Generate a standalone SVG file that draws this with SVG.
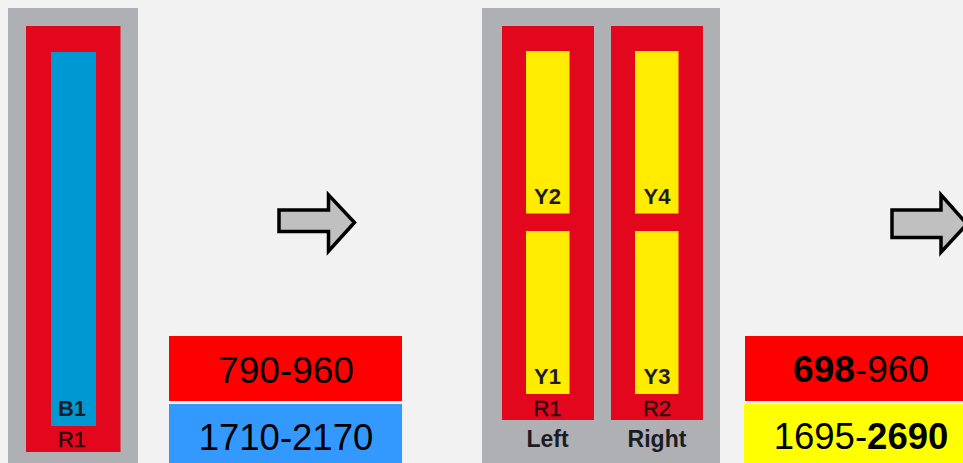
<svg xmlns="http://www.w3.org/2000/svg" width="963" height="463" viewBox="0 0 963 463">
<defs>
<style>
.bg{fill:#F2F2F2}
.gray{fill:#AEB0B3}
.red{fill:#E2071D}
.blue{fill:#0098D2}
.yel{fill:#FFEC00}
.lbl{font-family:"Liberation Sans",Arial,sans-serif;font-weight:bold;font-size:22px;fill:#1c1c24;text-anchor:middle}
.rl{font-family:"Liberation Sans",Arial,sans-serif;font-size:22px;fill:#2a0a0e;stroke:#2a0a0e;stroke-width:0.4;text-anchor:middle}
.big{font-family:"Liberation Sans",Arial,sans-serif;font-size:37px;fill:#000;text-anchor:middle}
.arrow{fill:#C0C0C0;stroke:#000;stroke-width:3.5;stroke-linejoin:miter}
</style>
</defs>
<rect class="bg" x="0" y="0" width="963" height="463"/>
<g id="panel1">
<rect class="gray" x="8" y="8" width="130" height="455"/>
<rect class="red" x="26" y="26" width="94.5" height="426"/>
<rect class="blue" x="51" y="52" width="45" height="374"/>
<text class="lbl" x="72" y="416">B1</text>
<text class="rl" x="72" y="447">R1</text>
</g>
<g id="band1">
<rect x="169" y="336" width="233" height="65" fill="#FF0000"/>
<text class="big" x="286" y="383">790-960</text>
<rect x="169" y="404" width="233" height="59" fill="#3399FF"/>
<text class="big" x="286" y="449.5" style="font-size:36.5px">1710-2170</text>
</g>
<g id="panel2">
<rect class="gray" x="482" y="8" width="238" height="455"/>
<rect class="red" x="502" y="26" width="92" height="394"/>
<rect class="red" x="611" y="26" width="92" height="394"/>
<rect class="yel" x="526" y="51" width="43.5" height="162.5"/>
<rect class="yel" x="526" y="231" width="43.5" height="163"/>
<rect class="yel" x="635" y="51" width="43.5" height="162.5"/>
<rect class="yel" x="635" y="231" width="43.5" height="163"/>
<text class="lbl" x="547.5" y="204">Y2</text>
<text class="lbl" x="547.5" y="384">Y1</text>
<text class="lbl" x="657" y="204">Y4</text>
<text class="lbl" x="657" y="384">Y3</text>
<text class="rl" x="547.5" y="416">R1</text>
<text class="rl" x="657" y="416">R2</text>
<text class="lbl" x="547.5" y="447" style="font-size:23px">Left</text>
<text class="lbl" x="657" y="447" style="font-size:23px">Right</text>
</g>
<g id="band2">
<rect x="745" y="336" width="233" height="65" fill="#FF0000"/>
<text class="big" x="861" y="382"><tspan font-weight="bold">698</tspan>-960</text>
<rect x="744" y="403.5" width="234" height="60" fill="#FFFF00"/>
<text class="big" x="861" y="448.5" style="font-size:36.5px">1695-<tspan font-weight="bold">2690</tspan></text>
</g>
<g id="connectors">
<path class="arrow" d="M279,210 H328.5 V194.8 L354.5,222.5 L328.5,251.2 V231.5 H279 Z"/>
<path class="arrow" d="M892,210 H941 V194.8 L967,224 L941,252.2 V237.5 H892 Z"/>
</g>
</svg>
